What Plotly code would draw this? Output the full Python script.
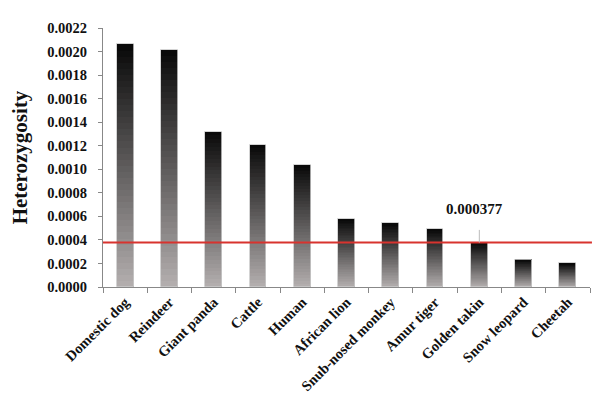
import plotly.graph_objects as go

species = ["Domestic dog", "Reindeer", "Giant panda", "Cattle", "Human", "African lion",
           "Snub-nosed monkey", "Amur tiger", "Golden takin", "Snow leopard", "Cheetah"]
heterozygosity = [0.00206, 0.00201, 0.00132, 0.00121, 0.00104, 0.00058,
                  0.00054, 0.00049, 0.000377, 0.00023, 0.00020]
reference_value = 0.000377
reference_label = "0.000377"
highlight = "Golden takin"
y_ticks = [i * 0.0002 for i in range(12)]

N = 40
bottom_rgb = (180, 175, 175)
top_rgb = (8, 8, 8)

fig = go.Figure()
for i in range(N):
    t = (i + 0.5) / N
    c = tuple(round(bottom_rgb[k] + (top_rgb[k] - bottom_rgb[k]) * t) for k in range(3))
    fig.add_trace(go.Bar(
        x=species,
        y=[v / N for v in heterozygosity],
        base=[v * i / N for v in heterozygosity],
        width=0.38,
        marker=dict(color="rgb(%d,%d,%d)" % c, line=dict(width=0)),
        showlegend=False, hoverinfo="skip",
    ))
fig.add_trace(go.Bar(
    x=species, y=heterozygosity, base=[0] * len(species), width=0.38,
    marker=dict(color="rgba(0,0,0,0)", line=dict(width=1, color="rgba(200,200,200,0.8)")),
    showlegend=False, hoverinfo="skip",
))

fig.add_shape(type="line", xref="paper", yref="y", x0=0, x1=1.004,
              y0=reference_value, y1=reference_value,
              line=dict(color="#d8332e", width=2))
fig.add_shape(type="line", xref="x", yref="y", x0=highlight, x1=highlight,
              y0=reference_value, y1=0.000485,
              line=dict(color="#bbbbbb", width=1))
fig.add_annotation(x=highlight, y=0.000665, text="<b>%s</b>" % reference_label,
                   showarrow=False, xshift=-5,
                   font=dict(family="Liberation Serif", size=15, color="#111111"))

# The page body has an 8px default margin, so the figure is offset to line up.
fig.update_layout(
    width=584, height=388,
    margin=dict(l=95, r=2, t=20, b=109),
    paper_bgcolor="white", plot_bgcolor="white",
    barmode="overlay", bargap=0,
    font=dict(family="Liberation Serif", size=14, color="#111111"),
)
fig.update_xaxes(
    type="category", tickangle=-45, automargin=False,
    tickfont=dict(family="Liberation Serif", size=14.5, color="#111111"),
    ticktext=["<b>%s</b>" % s for s in species], tickvals=species,
    showline=True, linecolor="#888888", linewidth=1,
    ticks="outside", ticklen=5, tickcolor="#888888", tickson="boundaries",
    showgrid=False, zeroline=False,
)
fig.update_yaxes(
    range=[0, 0.0022], tickvals=y_ticks, automargin=False,
    ticktext=["<b>%.4f</b>" % v for v in y_ticks],
    tickfont=dict(family="Liberation Serif", size=14.5, color="#111111"),
    ticklabelstandoff=8,
    showline=True, linecolor="#888888", linewidth=1,
    ticks="outside", ticklen=4, tickcolor="#888888",
    showgrid=False, zeroline=False,
    title=dict(text="<b>Heterozygosity</b>", standoff=16,
               font=dict(family="Liberation Serif", size=21, color="#111111")),
)

fig.write_html("out.html")
